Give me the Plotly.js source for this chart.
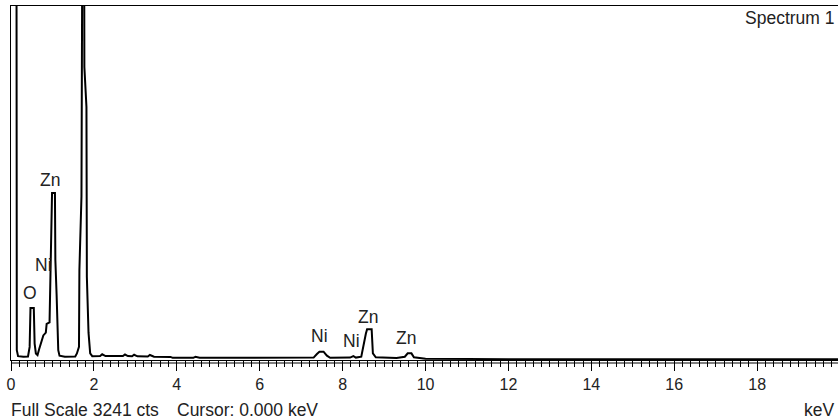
<!DOCTYPE html>
<html>
<head>
<meta charset="utf-8">
<script src="https://cdn.plot.ly/plotly-3.0.1.min.js"></script>
<style>html,body{margin:0;padding:0;background:#fff;}#chart{width:838px;height:420px;}</style>
</head>
<body>
<div id="chart"></div>
<script>
// Spectrum (energy in keV, counts); off-scale peaks exceed full scale
const energyKeV = [0.00,0.13,0.14,0.17,0.30,0.41,0.45,0.47,0.55,0.57,0.60,0.64,0.68,0.72,0.78,0.84,0.86,0.93,0.95,0.97,0.99,1.06,1.07,1.10,1.11,1.14,1.17,1.30,1.55,1.59,1.64,1.65,1.70,1.73,1.76,1.77,1.82,1.83,1.87,1.91,1.96,2.15,2.20,2.28,2.70,2.75,2.82,2.92,2.97,3.05,3.30,3.35,3.45,3.85,3.90,4.40,4.45,4.55,5.00,6.80,7.30,7.38,7.44,7.54,7.62,7.70,8.18,8.26,8.32,8.45,8.50,8.56,8.59,8.70,8.73,8.80,9.30,9.50,9.57,9.66,9.72,10.00,12.00,16.00,20.00];
const counts    = [5000,5000,90,35,30,32,120,476,476,150,60,45,100,160,225,250,330,345,900,1309,1529,1529,915,600,460,90,40,30,32,60,120,824,1500,5000,5000,2683,2316,760,250,60,35,36,52,36,36,50,36,34,48,34,32,46,30,28,20,20,30,20,20,18,22,55,76,76,40,20,22,35,22,30,140,240,281,281,60,25,18,30,61,61,25,12,8,7,6];

const fullScale = 3241;
const tickVals  = [0,2,4,6,8,10,12,14,16,18,20];
const tickText  = ['0','2','4','6','8','10','12','14','16','18','20'];

// Peak labels (text, label position keV, label position counts)
const peakLabels   = ['O','Ni','Zn','Ni','Ni','Zn','Zn'];
const peakLabelKeV = [0.47,0.79,0.94,7.45,8.22,8.61,9.53];
const peakLabelCts = [613,870,1648,220,174,394,201];

const tickFont = {family:'Liberation Sans, Arial, sans-serif', size:16, color:'#222'};
const font = {family:'Liberation Sans, Arial, sans-serif', size:17.5, color:'#222'};

const trace = {
  x: energyKeV, y: counts, type:'scatter', mode:'lines',
  line:{color:'#000', width:2}, hoverinfo:'skip', cliponaxis:true
};

const annotations = peakLabels.map((t,i)=>({
  x: peakLabelKeV[i], y: peakLabelCts[i], xref:'x', yref:'y', text:t,
  showarrow:false, font:font, xanchor:'center', yanchor:'middle'
}));
annotations.push({xref:'paper', yref:'paper', x:1, y:1, xanchor:'right', yanchor:'top', yshift:0, xshift:-2, text:'Spectrum 1', showarrow:false, font:font});
annotations.push({xref:'paper', yref:'paper', x:0, y:0, xanchor:'left', yanchor:'middle', xshift:-2, yshift:-50, text:'Full Scale ' + fullScale + ' cts', showarrow:false, font:font});
annotations.push({xref:'paper', yref:'paper', x:0, y:0, xanchor:'left', yanchor:'middle', xshift:164, yshift:-50, text:'Cursor: 0.000 keV', showarrow:false, font:font});
annotations.push({xref:'paper', yref:'paper', x:1, y:0, xanchor:'right', yanchor:'middle', xshift:-2, yshift:-50, text:'keV', showarrow:false, font:font});

const layout = {
  width:838, height:420,
  margin:{l:11, r:0, t:6, b:60, pad:0},
  paper_bgcolor:'#fff', plot_bgcolor:'#fff',
  showlegend:false,
  xaxis:{
    range:[0,19.95], showgrid:false, zeroline:false,
    showline:true, linecolor:'#000', linewidth:1, mirror:true,
    tickmode:'array', tickvals:tickVals, ticktext:tickText,
    ticks:'outside', ticklen:10, tickwidth:1, tickcolor:'#000',
    minor:{dtick:0.2, ticks:'outside', ticklen:6, tickwidth:1, tickcolor:'#000', showgrid:false},
    tickfont:tickFont, fixedrange:true
  },
  yaxis:{
    range:[0,fullScale], showgrid:false, zeroline:false,
    showline:true, linecolor:'#000', linewidth:1, mirror:false,
    showticklabels:false, ticks:'', fixedrange:true
  },
  shapes:[{
    type:'line', xref:'paper', yref:'paper', x0:0, x1:1,
    ysizemode:'pixel', yanchor:0, y0:-3, y1:-3,
    line:{color:'#000', width:1}
  }],
  annotations: annotations
};

Plotly.newPlot('chart',[trace],layout,{staticPlot:true, displayModeBar:false});
</script>
</body>
</html>
